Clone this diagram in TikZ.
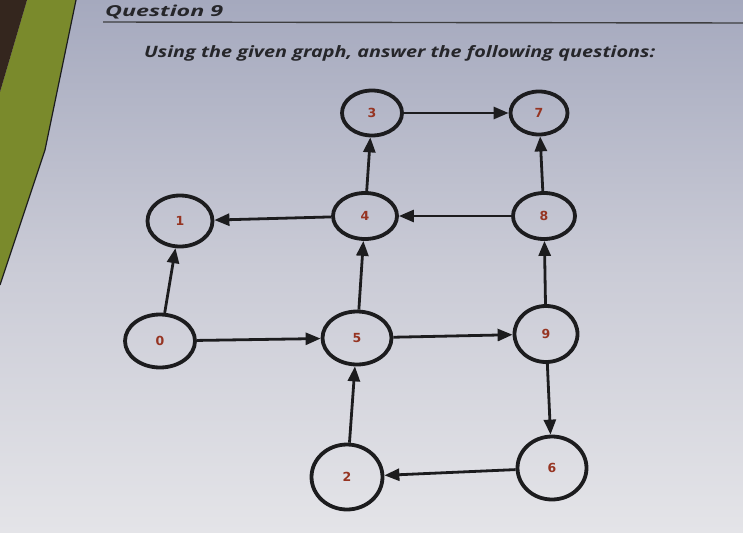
\documentclass[tikz,border=0pt]{standalone}
\usepackage{fontspec}
\setmainfont{Open Sans}
\newfontfamily\lblfont{DejaVu Sans}
\usetikzlibrary{arrows.meta,shapes.geometric}
\definecolor{bgtop}{RGB}{165,169,190}
\definecolor{bgmid}{RGB}{202,203,214}
\definecolor{bgbot}{RGB}{228,228,232}
\definecolor{olive}{RGB}{122,138,44}
\definecolor{darkbrown}{RGB}{52,38,30}
\definecolor{ink}{RGB}{28,28,30}
\definecolor{lbl}{RGB}{150,52,34}
\definecolor{txt}{RGB}{38,38,42}
\begin{document}
\begin{tikzpicture}[x=1pt,y=-1pt,
  vtx/.style={ellipse,draw=ink,line width=3.8pt,inner sep=0pt,
    font=\lblfont\bfseries\fontsize{12.5}{12.5}\selectfont,text=lbl},
  arc/.style={draw=ink,line width=2.8pt,-{Triangle[length=15pt,width=12pt]}}]
\useasboundingbox (0,0) rectangle (743,532);
% background
\fill[top color=bgtop,bottom color=bgbot,middle color=bgmid] (0,0) rectangle (743,532);
\fill[olive] (27,0) -- (76,0) -- (45,150) -- (0,285) -- (0,92) -- cycle;
\fill[darkbrown] (0,0) -- (27,0) -- (0,92) -- cycle;
\draw[ink,line width=1.2pt] (76,0) -- (45,150) -- (0,285);
% header
\node[anchor=base west,text=txt,inner sep=0pt] (title) at (105,16.5)
  {\resizebox{118pt}{11.5pt}{\bfseries\itshape Question 9}};
\draw[ink!85,line width=1.4pt] (103,22) -- (743,23);
\node[anchor=base west,text=txt,inner sep=0pt] (sub) at (144,57.5)
  {\resizebox{511pt}{12pt}{\bfseries\itshape Using the given graph, answer the following questions:}};
% vertices
\node[vtx,minimum width=60pt,minimum height=45pt] (n3) at (372,113) {3};
\node[vtx,minimum width=57pt,minimum height=43pt] (n7) at (539,113) {7};
\node[vtx,minimum width=65pt,minimum height=51pt] (n1) at (180,221) {1};
\node[vtx,minimum width=64pt,minimum height=46pt] (n4) at (365,216) {4};
\node[vtx,minimum width=62pt,minimum height=46pt] (n8) at (544,216) {8};
\node[vtx,minimum width=70pt,minimum height=53pt] (n0) at (160,341) {0};
\node[vtx,minimum width=69pt,minimum height=53pt] (n5) at (357,338) {5};
\node[vtx,minimum width=63pt,minimum height=56pt] (n9) at (546,334) {9};
\node[vtx,minimum width=71pt,minimum height=65pt] (n2) at (347,477) {2};
\node[vtx,minimum width=69pt,minimum height=63pt] (n6) at (552,468) {6};
% arcs
\draw[arc] (n3) -- (n7);
\draw[arc] (n4) -- (n3);
\draw[arc] (n8) -- (n7);
\draw[arc] (n8) -- (n4);
\draw[arc] (n4) -- (n1);
\draw[arc] (n0) -- (n1);
\draw[arc] (n0) -- (n5);
\draw[arc] (n5) -- (n4);
\draw[arc] (n5) -- (n9);
\draw[arc] (n9) -- (n8);
\draw[arc] (n9) -- (n6);
\draw[arc] (n6) -- (n2);
\draw[arc] (n2) -- (n5);
\end{tikzpicture}
\end{document}
